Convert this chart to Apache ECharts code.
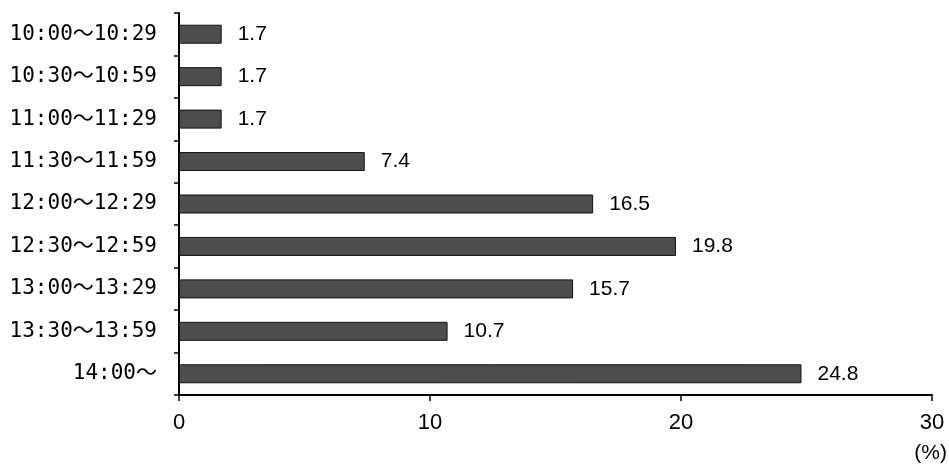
<!DOCTYPE html>
<html>
<head>
<meta charset="utf-8">
<script src="https://cdn.jsdelivr.net/npm/echarts@6/dist/echarts.min.js"></script>
<style>html,body{margin:0;padding:0;background:#fff;}#c{width:949px;height:466px;}</style>
</head>
<body>
<div id="c"></div>
<script>
const categories = ["10:00～10:29","10:30～10:59","11:00～11:29","11:30～11:59","12:00～12:29","12:30～12:59","13:00～13:29","13:30～13:59","14:00～"];
const values = [1.7, 1.7, 1.7, 7.4, 16.5, 19.8, 15.7, 10.7, 24.8];
const xTicks = [0, 10, 20, 30];
const unitLabel = "(%)";

const chart = echarts.init(document.getElementById('c'), null, {renderer: 'canvas'});
chart.setOption({
  animation: false,
  backgroundColor: '#fff',
  grid: {left: 179, top: 13, right: 17, bottom: 71, containLabel: false},
  xAxis: {
    type: 'value', min: xTicks[0], max: xTicks[xTicks.length - 1], interval: 10,
    axisLine: {show: true, lineStyle: {color: '#000', width: 2}},
    axisTick: {show: true, length: 6, lineStyle: {color: '#000', width: 1.5}},
    splitLine: {show: false},
    axisLabel: {color: '#000', fontSize: 22, fontFamily: 'Liberation Sans, Arial, sans-serif', margin: 17}
  },
  yAxis: {
    type: 'category', data: categories, inverse: true,
    axisLine: {show: true, lineStyle: {color: '#000', width: 2}},
    axisTick: {show: true, length: 5, lineStyle: {color: '#000', width: 1.5}},
    axisLabel: {color: '#000', fontSize: 21, fontFamily: '"DejaVu Sans Mono", "Noto Sans CJK JP", monospace', margin: 22}
  },
  series: [{
    type: 'bar', data: values, barWidth: 19,
    itemStyle: {color: '#4d4d4d', borderColor: '#111', borderWidth: 1},
    label: {show: true, position: 'right', distance: 16, color: '#000', fontSize: 21,
      fontFamily: 'Liberation Sans, Arial, sans-serif', formatter: p => p.value.toFixed(1)}
  }],
  graphic: [{
    type: 'text', right: 2, top: 443,
    style: {text: unitLabel, fill: '#000', fontSize: 21, fontFamily: 'Liberation Sans, Arial, sans-serif'}
  }]
});
</script>
</body>
</html>
